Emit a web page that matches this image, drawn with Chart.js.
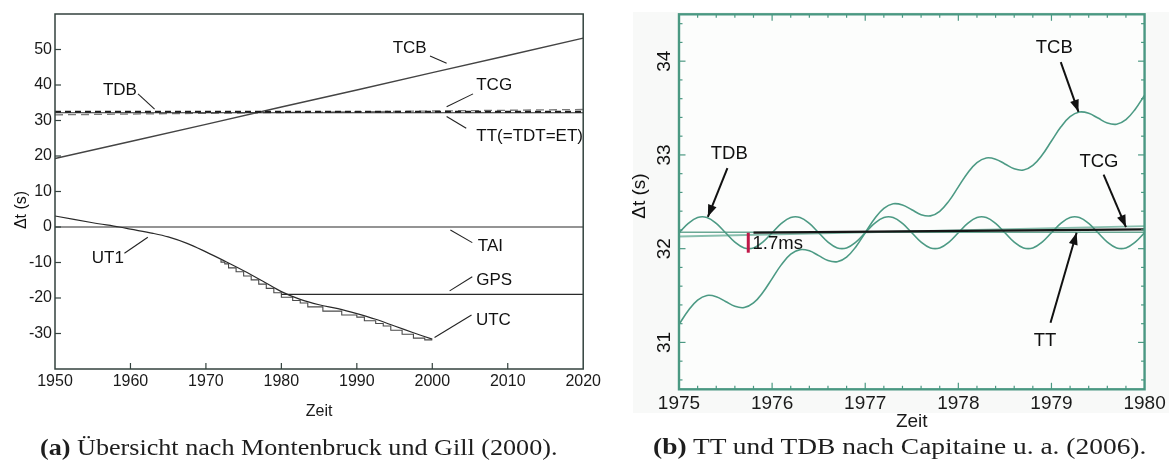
<!DOCTYPE html>
<html><head><meta charset="utf-8">
<script src="https://cdn.jsdelivr.net/npm/chart.js@4.4.0/dist/chart.umd.min.js"></script>
<style>
html,body{margin:0;padding:0;background:#fff;width:1169px;height:465px;overflow:hidden;position:relative}
#bg{position:absolute;left:633px;top:12px;width:536px;height:401px;background:#f8f9f8}
.cv{position:absolute;top:0}
#c1w{left:0;width:604px;height:440px}
#c2w{left:600px;width:569px;height:440px}
.cap{position:absolute;font-family:'Liberation Serif','Times New Roman',serif;font-size:23px;line-height:26px;color:#1e1e1e;white-space:nowrap;transform-origin:0 50%}
#capA{left:40px;top:435px}
#capB{left:653px;top:434px}
</style></head><body>
<div id="bg"></div>
<div class="cv" id="c1w"><canvas id="c1"></canvas></div>
<div class="cv" id="c2w"><canvas id="c2"></canvas></div>
<div class="cap" id="capA"><b>(a)</b> Übersicht nach Montenbruck und Gill (2000).</div>
<div class="cap" id="capB"><b>(b)</b> TT und TDB nach Capitaine u. a. (2006).</div>
<script>
// ---------- Left chart data (a) ----------
const leftTCBYears = [1950,1960,1970,1980,1990,2000,2010,2020];
const leftTCB = [19.3,24.1,28.9,33.8,38.6,43.5,48.3,53.2];
const leftFlatYears = [1950,2020];
const leftTT = [32.18,32.18];
const leftTDB = [32.45,32.45];
const leftTCG = [31.6,33.1];
const leftTAI = [0,0];
const leftGPSYears = [1980,2020];
const leftGPS = [-19,-19];
const leftUT1Years = [1950,1955,1958.5,1960,1963,1965,1967.5,1970,1972.5,1975,1977.5,1980,1982.5,1985,1987.5,1990,1992.5,1995,1997.5,2000];
const leftUT1 = [3.1,1.2,0,-0.6,-1.8,-2.8,-4.6,-7.0,-9.6,-12.3,-15.2,-18.2,-20.4,-21.9,-23.0,-24.4,-26.0,-27.9,-29.8,-31.6];
const leftUTCYears = [1972,1972.5,1973,1974,1975,1976,1977,1978,1979,1980,1981.5,1982.5,1983.5,1985.5,1988,1990,1991,1992.5,1993.5,1994.5,1996,1997.5,1999,2000];
const leftUTC = [-9.3,-9.9,-10.4,-11.5,-12.6,-13.8,-14.9,-16.1,-17.3,-18.5,-19.8,-20.7,-21.4,-22.5,-23.7,-24.8,-25.4,-26.4,-27.2,-27.9,-29.1,-30.2,-31.3,-31.8];

// ---------- Right chart data (b) ----------
const rightYears = [1975.0,1975.1,1975.2,1975.3,1975.4,1975.5,1975.6,1975.7,1975.8,1975.9,
  1976.0,1976.1,1976.2,1976.3,1976.4,1976.5,1976.6,1976.7,1976.8,1976.9,
  1977.0,1977.1,1977.2,1977.3,1977.4,1977.5,1977.6,1977.7,1977.8,1977.9,
  1978.0,1978.1,1978.2,1978.3,1978.4,1978.5,1978.6,1978.7,1978.8,1978.9,
  1979.0,1979.1,1979.2,1979.3,1979.4,1979.5,1979.6,1979.7,1979.8,1979.9,1980.0];
const rightTDB = [32.170,32.270,32.332,32.332,32.270,32.170,32.070,32.008,32.008,32.070,
  32.170,32.270,32.332,32.332,32.270,32.170,32.070,32.008,32.008,32.070,
  32.170,32.270,32.332,32.332,32.270,32.170,32.070,32.008,32.008,32.070,
  32.170,32.270,32.332,32.332,32.270,32.170,32.070,32.008,32.008,32.070,
  32.170,32.270,32.332,32.332,32.270,32.170,32.070,32.008,32.008,32.070,32.170];
const rightTCB = [31.192,31.341,31.452,31.501,31.488,31.437,31.385,31.372,31.421,31.532,
  31.681,31.830,31.941,31.990,31.977,31.926,31.874,31.861,31.910,32.021,
  32.170,32.319,32.430,32.479,32.466,32.415,32.363,32.350,32.399,32.510,
  32.659,32.808,32.919,32.968,32.955,32.904,32.852,32.839,32.888,32.999,
  33.148,33.297,33.408,33.457,33.444,33.393,33.341,33.328,33.377,33.488,33.637];
const rightLineYears = [1975,1980];
const rightTT = [32.175,32.175];
const rightTCG = [32.13,32.24];
const rightMeanYears = [1975.8,1980];
const rightMean = [32.172,32.205];
const rightYTicks = [31,32,33,34];

// ---------- Annotations (data coordinates) ----------
const leftLabels = [
  {t:'TCB', x:1997.0, y:50.3},
  {t:'TCG', x:2008.2, y:40.0},
  {t:'TT(=TDT=ET)', x:2012.9, y:25.6},
  {t:'TDB', x:1958.6, y:38.4},
  {t:'TAI', x:2007.7, y:-5.5},
  {t:'UT1', x:1957.0, y:-8.8},
  {t:'GPS', x:2008.2, y:-14.9},
  {t:'UTC', x:2008.1, y:-26.2}
];
const leftLeaders = [
  [1999.7,48.2,2001.9,46.1],
  [2005.4,37.5,2001.9,33.9],
  [2001.9,31.1,2004.5,27.8],
  [1961.0,37.5,1963.2,33.2],
  [2002.4,-0.85,2005.3,-4.4],
  [1959.2,-7.4,1962.3,-2.9],
  [2002.3,-18.0,2005.3,-14.0],
  [2000.3,-31.1,2005.2,-24.8]
];
const rightLabels = [
  {t:'TCB', x:1979.03, y:34.14},
  {t:'TCG', x:1979.51, y:32.93},
  {t:'TT', x:1978.93, y:31.02},
  {t:'TDB', x:1975.54, y:33.01}
];
const rightArrows = [
  [1979.10,33.99,1979.29,33.46],
  [1979.56,32.79,1979.80,32.23],
  [1978.99,31.21,1979.27,32.17],
  [1975.52,32.86,1975.31,32.34]
];
const msBar = {x:1975.744, y0:32.17, y1:31.957, text:'1.7ms', tx:1975.79, ty:32.05};

const zip = (xs, ys) => xs.map((x, i) => ({x, y: ys[i]}));
const SANS = "'Liberation Sans', Arial, Helvetica, sans-serif";
Chart.defaults.font.family = SANS;
Chart.defaults.color = '#1a1a1a';

function drawArrowHead(ctx, x0, y0, x1, y1, len, hw) {
  const a = Math.atan2(y1 - y0, x1 - x0);
  ctx.beginPath();
  ctx.moveTo(x1, y1);
  ctx.lineTo(x1 - len * Math.cos(a) + hw * Math.sin(a), y1 - len * Math.sin(a) - hw * Math.cos(a));
  ctx.lineTo(x1 - len * Math.cos(a) - hw * Math.sin(a), y1 - len * Math.sin(a) + hw * Math.cos(a));
  ctx.closePath();
  ctx.fill();
}

const decorPlugin = {
  id: 'decor',
  afterDatasetsDraw(chart, args, o) {
    const {ctx, chartArea: a} = chart;
    const X = chart.scales.x, Y = chart.scales.y;
    ctx.save();
    ctx.strokeStyle = o.frameColor;
    o.ticks.forEach(t => {
      const sc = chart.scales[t.axis];
      const n = Math.round((t.to - t.from) / t.step);
      ctx.lineWidth = t.width || 1.2;
      for (let i = 0; i <= n; i++) {
        const v = t.from + i * t.step;
        if (t.skipInt && Math.abs(v - Math.round(v)) < 1e-6) continue;
        const p = sc.getPixelForValue(v);
        t.sides.forEach(s => {
          ctx.beginPath();
          if (s === 'bottom') { ctx.moveTo(p, a.bottom); ctx.lineTo(p, a.bottom - t.len); }
          if (s === 'top') { ctx.moveTo(p, a.top); ctx.lineTo(p, a.top + t.len); }
          if (s === 'left') { ctx.moveTo(a.left, p); ctx.lineTo(a.left + t.len, p); }
          if (s === 'right') { ctx.moveTo(a.right, p); ctx.lineTo(a.right - t.len, p); }
          ctx.stroke();
        });
      }
    });
    ctx.lineWidth = o.frameWidth;
    ctx.strokeRect(a.left, a.top, a.right - a.left, a.bottom - a.top);
    ctx.strokeStyle = o.leaderColor; ctx.fillStyle = o.leaderColor;
    ctx.lineWidth = o.leaderWidth;
    o.leaders.forEach(l => {
      const x0 = X.getPixelForValue(l[0]), y0 = Y.getPixelForValue(l[1]);
      const x1 = X.getPixelForValue(l[2]), y1 = Y.getPixelForValue(l[3]);
      ctx.beginPath(); ctx.moveTo(x0, y0); ctx.lineTo(x1, y1); ctx.stroke();
      if (o.arrows) drawArrowHead(ctx, x0, y0, x1, y1, 12, 4.5);
    });
    ctx.fillStyle = '#111';
    ctx.font = o.labelFont;
    ctx.textAlign = 'center'; ctx.textBaseline = 'middle';
    o.labels.forEach(l => ctx.fillText(l.t, X.getPixelForValue(l.x), Y.getPixelForValue(l.y)));
    ctx.save();
    ctx.translate(o.yTitle.x, o.yTitle.y);
    ctx.rotate(-Math.PI / 2);
    ctx.font = o.yTitle.font;
    ctx.fillText(o.yTitle.text, 0, 0);
    ctx.restore();
    if (o.rotTicks) {
      ctx.font = o.rotTicks.font;
      o.rotTicks.values.forEach(v => {
        ctx.save();
        ctx.translate(o.rotTicks.x, Y.getPixelForValue(v));
        ctx.rotate(-Math.PI / 2);
        ctx.fillText(String(v), 0, 0);
        ctx.restore();
      });
    }
    if (o.bar) {
      const bx = X.getPixelForValue(o.bar.x);
      ctx.strokeStyle = '#c01848'; ctx.lineWidth = 3;
      ctx.beginPath(); ctx.moveTo(bx, Y.getPixelForValue(o.bar.y0)); ctx.lineTo(bx, Y.getPixelForValue(o.bar.y1)); ctx.stroke();
      ctx.fillStyle = '#111'; ctx.textAlign = 'left'; ctx.font = o.labelFont;
      ctx.fillText(o.bar.text, X.getPixelForValue(o.bar.tx), Y.getPixelForValue(o.bar.ty));
    }
    ctx.restore();
  }
};

const lineDs = (label, data, color, width, extra) => Object.assign({
  label, data, showLine: true, borderColor: color, backgroundColor: color,
  borderWidth: width, pointRadius: 0, fill: false
}, extra || {});

// ---------- Left chart ----------
new Chart(document.getElementById('c1'), {
  type: 'scatter',
  data: { datasets: [
    lineDs('TDB', zip(leftFlatYears, leftTDB), '#1c1c1c', 2, {borderDash: [6, 4]}),
    lineDs('TT', zip(leftFlatYears, leftTT), '#2a2a2a', 1.2),
    lineDs('TCG', zip(leftFlatYears, leftTCG), '#7a7a7a', 1.3, {borderDash: [8, 5]}),
    lineDs('TCB', zip(leftTCBYears, leftTCB), '#444', 1.4),
    lineDs('TAI', zip(leftFlatYears, leftTAI), '#2a2a2a', 1.2),
    lineDs('GPS', zip(leftGPSYears, leftGPS), '#2a2a2a', 1.2),
    lineDs('UT1', zip(leftUT1Years, leftUT1), '#2a2a2a', 1.2, {tension: 0.35}),
    lineDs('UTC', zip(leftUTCYears, leftUTC), '#4a4a4a', 1.1, {stepped: 'after'})
  ]},
  options: {
    animation: false, responsive: true, maintainAspectRatio: false,
    layout: { padding: { left: 0, top: 14, right: 18.5, bottom: 0 } },
    plugins: {
      legend: { display: false }, tooltip: { enabled: false },
      decor: {
        frameColor: '#33423e', frameWidth: 1.5,
        ticks: [
          {axis: 'x', from: 1960, to: 2010, step: 10, len: 6, sides: ['bottom']},
          {axis: 'y', from: -30, to: 50, step: 10, len: 6, sides: ['left']}
        ],
        leaders: leftLeaders, arrows: false, leaderColor: '#222', leaderWidth: 1.1,
        labels: leftLabels, labelFont: "17px " + SANS,
        yTitle: {text: 'Δt (s)', x: 22, y: 210, font: "16px " + SANS}
      }
    },
    scales: {
      x: {
        type: 'linear', min: 1950, max: 2020,
        ticks: { stepSize: 10, padding: 3, maxRotation: 0, font: { size: 16 }, color: '#1a1a1a', callback: v => String(v) },
        grid: { display: false, drawTicks: false }, border: { display: false },
        title: { display: true, text: 'Zeit', font: { size: 16 }, color: '#1a1a1a', padding: { top: 0, bottom: 19 } },
        afterFit: s => { s.height = 71; }
      },
      y: {
        type: 'linear', min: -40, max: 60,
        ticks: { stepSize: 10, padding: 3, font: { size: 16 }, color: '#1a1a1a', callback: v => (v === -40 || v === 60) ? '' : String(v) },
        grid: { display: false, drawTicks: false }, border: { display: false },
        afterFit: s => { s.width = 55; }
      }
    }
  },
  plugins: [decorPlugin]
});

// ---------- Right chart ----------
new Chart(document.getElementById('c2'), {
  type: 'scatter',
  data: { datasets: [
    lineDs('TT (mittel)', zip(rightMeanYears, rightMean), '#161616', 2.2),
    lineDs('TDB', zip(rightYears, rightTDB), '#4c9a84', 1.6, {tension: 0.4}),
    lineDs('TCB', zip(rightYears, rightTCB), '#4c9a84', 1.6, {tension: 0.4}),
    lineDs('TT', zip(rightLineYears, rightTT), '#6aa894', 1.7),
    lineDs('TCG', zip(rightLineYears, rightTCG), '#88bfae', 1.9)
  ]},
  options: {
    animation: false, responsive: true, maintainAspectRatio: false,
    layout: { padding: { left: 0, top: 14.3, right: 24, bottom: 0 } },
    plugins: {
      legend: { display: false }, tooltip: { enabled: false },
      decor: {
        frameColor: '#4a9882', frameWidth: 2.4,
        ticks: [
          {axis: 'x', from: 1975.2, to: 1979.8, step: 0.2, len: 3.5, sides: ['bottom', 'top'], skipInt: true},
          {axis: 'x', from: 1976, to: 1979, step: 1, len: 6.5, sides: ['bottom', 'top']},
          {axis: 'y', from: 30.6, to: 34.4, step: 0.2, len: 3.5, sides: ['left', 'right'], skipInt: true},
          {axis: 'y', from: 31, to: 34, step: 1, len: 6.5, sides: ['left', 'right']}
        ],
        leaders: rightArrows, arrows: true, leaderColor: '#111', leaderWidth: 2,
        labels: rightLabels, labelFont: "18.5px " + SANS,
        yTitle: {text: 'Δt (s)', x: 40, y: 196, font: "19px " + SANS},
        rotTicks: {values: rightYTicks, x: 65, font: "19px " + SANS},
        bar: msBar
      }
    },
    scales: {
      x: {
        type: 'linear', min: 1975, max: 1980,
        ticks: { stepSize: 1, padding: 3.3, maxRotation: 0, font: { size: 19 }, color: '#1a1a1a', callback: v => String(v) },
        grid: { display: false, drawTicks: false }, border: { display: false },
        title: { display: true, text: 'Zeit', font: { size: 19 }, color: '#1a1a1a', padding: { top: 0, bottom: 6.9 } },
        afterFit: s => { s.height = 50.7; }
      },
      y: {
        type: 'linear', min: 30.5, max: 34.5,
        ticks: { display: false, stepSize: 1 },
        grid: { display: false, drawTicks: false }, border: { display: false },
        afterFit: s => { s.width = 79; }
      }
    }
  },
  plugins: [decorPlugin, {
    id: 'plotbg',
    beforeDraw(chart) {
      const {ctx, chartArea: a} = chart;
      ctx.save(); ctx.fillStyle = '#fcfdfc';
      ctx.fillRect(a.left, a.top, a.right - a.left, a.bottom - a.top);
      ctx.restore();
    }
  }]
});

function fitCap(id, w) {
  const el = document.getElementById(id);
  el.style.transform = 'scaleX(' + (w / el.offsetWidth) + ')';
}
fitCap('capA', 517);
fitCap('capB', 493);
</script>
</body></html>
